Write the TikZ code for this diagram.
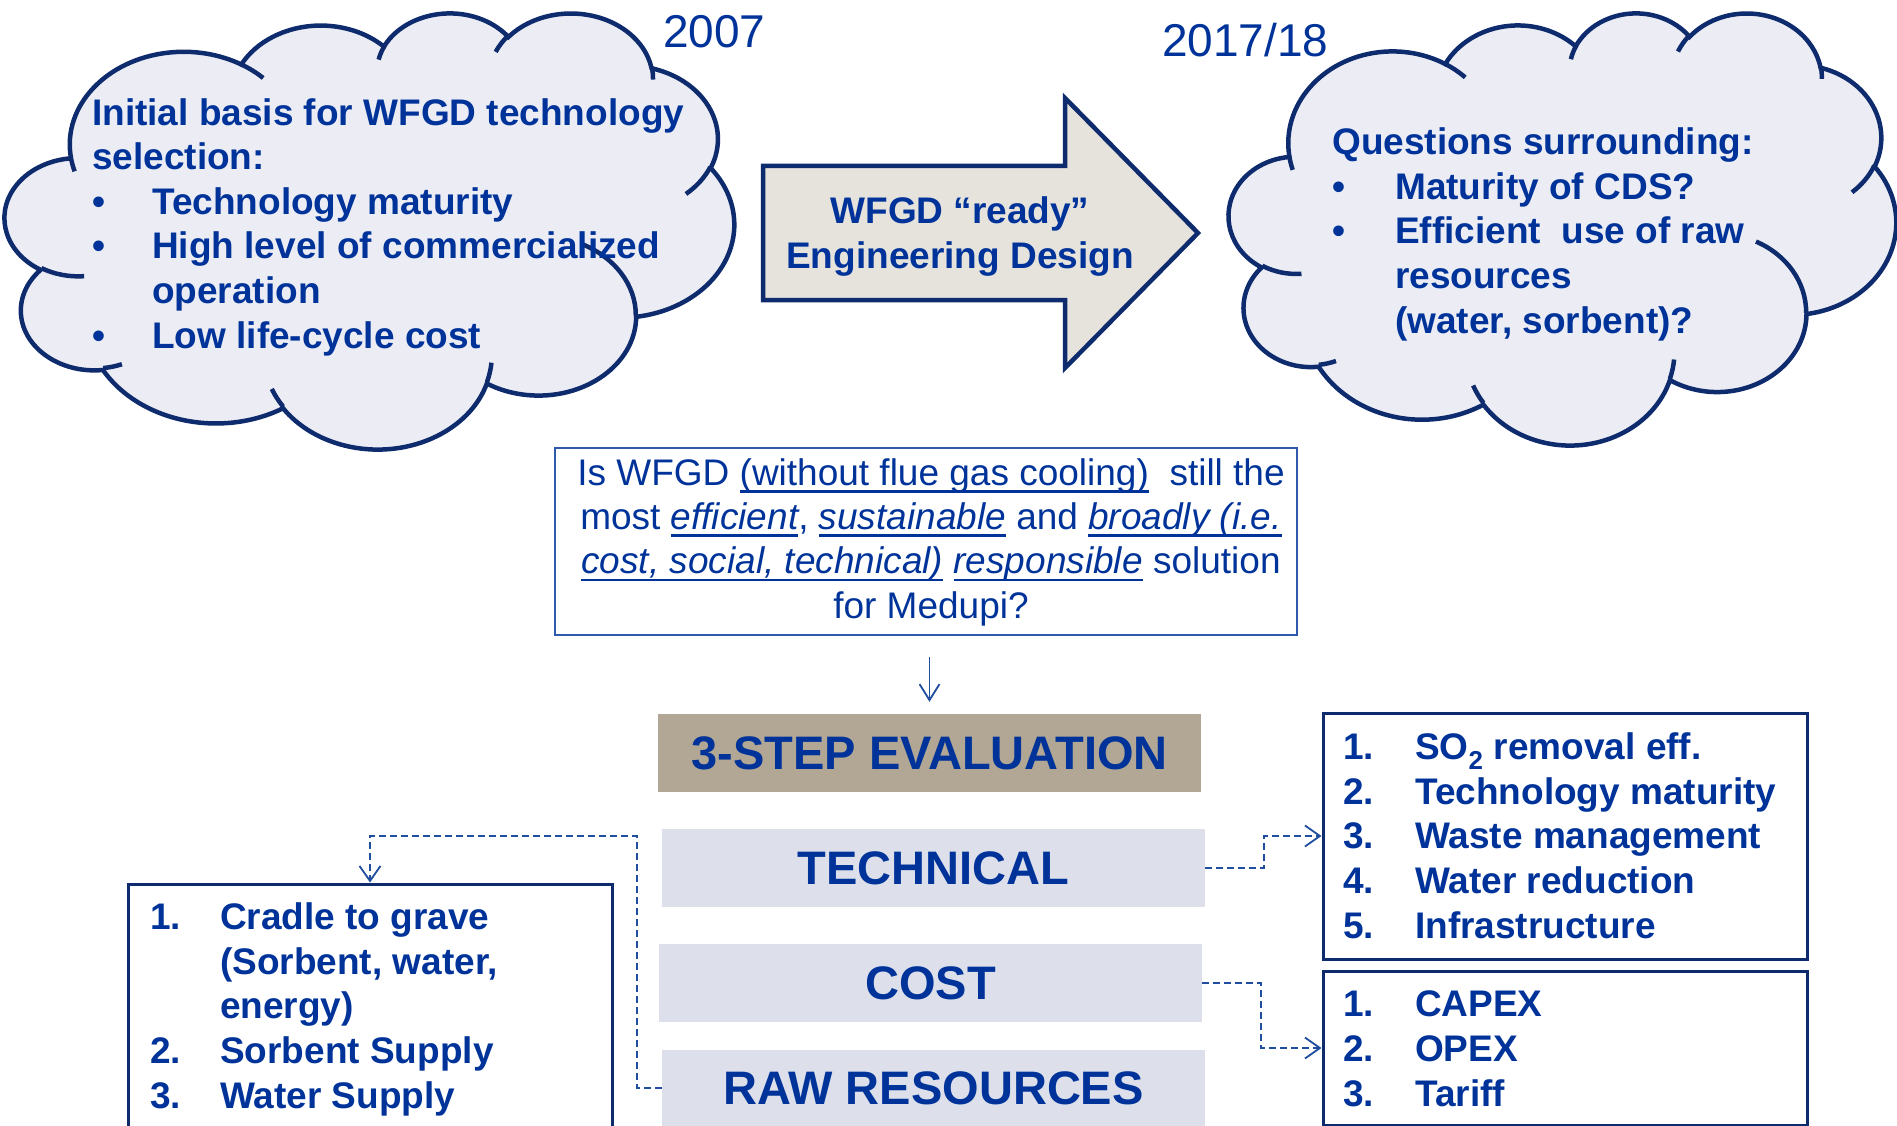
\documentclass[tikz,border=0pt]{standalone}
\usepackage{fontspec}
\setmainfont{Liberation Sans}
\usetikzlibrary{arrows.meta}
\definecolor{tblue}{HTML}{003399}
\definecolor{tnavy}{HTML}{0E2B6E}
\definecolor{tcloud}{HTML}{ECEDF4}
\definecolor{tsand}{HTML}{E6E2DC}
\definecolor{ttaupe}{HTML}{B2A694}
\definecolor{tgrey}{HTML}{DDE0EA}
\definecolor{tframe}{HTML}{2E5AAC}
\definecolor{tdash}{HTML}{1F4E9E}
\newsavebox{\ulbox}
\newcommand{\uln}[1]{\sbox{\ulbox}{#1}\rlap{\rule[-7.6pt]{\wd\ulbox}{2.6pt}}\usebox{\ulbox}}
\newcommand{\cbul}[1][60pt]{\makebox[#1][l]{•}}
\newcommand{\nr}[2][72pt]{\makebox[#1][l]{#2}}
% arc with visual angles (start, sweep) turned into ellipse parameters
\newcommand{\carc}[4]{arc[x radius=#1, y radius=#2, start angle={vang(#3,#1,#2)}, end angle={vang(#3+#4,#1,#2)}]}
\newcommand{\pcloud}[4]{% x, y, width, height
  \begin{scope}[shift={(#1,#2)}, x={(#3/432,0)}, y={(0,#4/432)}]
    \draw[cloudline, fill=tcloud] (39.00,143.70)
      \carc{67.53}{91.90}{-190.4875}{123.7805}
      \carc{53.33}{72.67}{-144.1024}{89.9452}
      \carc{43.65}{59.45}{-145.8079}{99.7230}
      \carc{48.57}{65.95}{-130.9861}{117.2417}
      \carc{53.33}{72.73}{-78.7089}{109.0269}
      \carc{67.75}{92.20}{-46.2673}{130.2690}
      \carc{57.85}{78.67}{0.6250}{114.0333}
      \carc{67.52}{92.15}{22.4516}{115.1726}
      \carc{77.20}{105.43}{66.2426}{75.7110}
      \carc{43.60}{59.18}{-274.9421}{146.7356}
      \carc{43.45}{59.45}{-246.8285}{152.5189} -- cycle;
    \draw[cloudline]
      (46.93,261.77) \carc{43.45}{59.45}{86.7420}{26.4295}
      (69.28,348.99) \carc{43.60}{59.18}{73.6105}{11.4475}
      (164.78,390.90) \carc{67.52}{92.15}{137.6242}{14.0811}
      (288.27,347.51) \carc{67.52}{92.15}{6.4533}{15.9984}
      (341.29,229.54) \carc{57.85}{78.67}{-70.2924}{70.9174}
      (417.98,153.54) \carc{53.33}{72.73}{30.3180}{27.7515}
      (383.24,54.26) \carc{48.57}{65.95}{-13.7443}{14.8589}
      (290.78,39.52) \carc{48.57}{65.95}{-149.1815}{18.1954}
      (221.41,47.20) \carc{43.65}{59.45}{-163.4943}{17.6864}
      (140.00,51.92) \carc{67.53}{91.90}{-66.7070}{12.3194}
      (41.27,157.89) \carc{67.53}{91.90}{157.6544}{11.8582};
  \end{scope}}
\tikzset{
  declare function={vang(\qq,\ra,\rb)=\qq+atan((\ra/\rb-1)*sin(\qq)*cos(\qq)/(cos(\qq)^2+\ra/\rb*sin(\qq)^2));},
  cloudline/.style={draw=tnavy, line width=4.5pt},
  bigtxt/.style={font=\fontsize{37}{44.6}\selectfont\bfseries, text=tblue, align=left,
                 inner sep=0pt, anchor=base west},
  year/.style={font=\fontsize{46}{50}\selectfont, text=tblue, inner sep=0pt, anchor=base west},
  stepbox/.style={font=\fontsize{47}{50}\selectfont\bfseries, text=tblue, minimum width=543pt,
                  minimum height=78pt, inner sep=0pt},
  listbox/.style={draw=tnavy, line width=3pt, inner sep=0pt, minimum width=484pt},
  link/.style={draw=tdash, line width=1.8pt, dash pattern=on 7pt off 4pt,
               -{Straight Barb[length=15pt,width=21pt]}},
}

\begin{document}
\begin{tikzpicture}[x=1pt, y=-1pt]
  \useasboundingbox (0,0) rectangle (1897,1126);
  \clip (0,0) rectangle (1897,1126);

  % --- clouds: 2007 and 2017/18 (text anchored at last baseline) ------
  \pcloud{5}{12}{729}{436}
  \pcloud{1229}{12}{667}{432}
  \node[year] (yold) at (663,48) {2007};
  \node[year] (ynew) at (1162,57) {2017/18};
  \node[bigtxt] (basis) at (92,348) {Initial basis for WFGD technology\\selection:\\
    \cbul Technology maturity\\\cbul High level of commercialized\\\hspace*{60pt}operation\\
    \cbul Low life-cycle cost};
  \node[bigtxt] (doubts) at (1332,333) {Questions surrounding:\\\cbul[63pt]Maturity of CDS?\\
    \cbul[63pt]Efficient\ \ use of raw\\\hspace*{63pt}resources\\\hspace*{63pt}(water, sorbent)?};

  % --- block arrow ------------------------------------------------------
  \draw[draw=tnavy, line width=4.5pt, fill=tsand, line join=miter]
    (763,166) -- (1065,166) -- (1065,98) -- (1198,233) -- (1065,368) -- (1065,300) -- (763,300) -- cycle;
  \node[bigtxt, align=center, anchor=base] (design) at (960,268) {WFGD “ready”\\Engineering Design};

  % --- question ---------------------------------------------------------
  \node[draw=tframe, line width=2pt, minimum width=742pt, minimum height=187pt, inner sep=0pt]
    (qframe) at (926,541.5) {};
  \node[font=\fontsize{37}{44.3}\selectfont, text=tblue, align=center, inner sep=0pt, anchor=base]
    (query) at (931,618) {Is WFGD \uln{(without flue gas cooling)}\ \ still the\\
    most \textit{\uln{efficient}}, \textit{\uln{sustainable}} and \textit{\uln{broadly (i.e.}}\\
    \textit{\uln{cost, social, technical)}} \textit{\uln{responsible}} solution\\for Medupi?};
  \coordinate (qgap) at (929.5,657);

  % --- three steps ------------------------------------------------------
  \node[stepbox, fill=ttaupe] (eval) at (929.5,753) {3-STEP EVALUATION};
  \node[stepbox, fill=tgrey] (tech) at (933.5,868) {TECHNICAL};
  \node[stepbox, fill=tgrey] (cost) at (930.5,983) {COST};
  \node[stepbox, fill=tgrey, minimum height=76pt] (raw) at (933.5,1088) {RAW RESOURCES};
  \draw[draw=tdash, line width=1.8pt, -{Straight Barb[length=16pt,width=20pt]}]
    (qgap) -- ([yshift=12pt]eval.north);

  % --- criteria lists ---------------------------------------------------
  \node[listbox, minimum height=246pt] (techlist) at (1565,836) {};
  \node[listbox, minimum height=154pt] (costlist) at (1565,1048) {};
  \node[listbox, minimum height=260pt] (rawlist) at (370,1014) {};
  \node[bigtxt] (techitems) at (1343,938) {\nr{1.}SO\textsubscript{2} removal eff.\\
    \nr{2.}Technology maturity\\\nr{3.}Waste management\\\nr{4.}Water reduction\\\nr{5.}Infrastructure};
  \node[bigtxt] (costitems) at (1343,1106) {\nr{1.}CAPEX\\\nr{2.}OPEX\\\nr{3.}Tariff};
  \node[bigtxt] (rawitems) at (150,1108) {\nr[70pt]{1.}Cradle to grave\\\hspace*{70pt}(Sorbent, water,\\
    \hspace*{70pt}energy)\\\nr[70pt]{2.}Sorbent Supply\\\nr[70pt]{3.}Water Supply};

  \coordinate (rawtop) at (370,836);
  \draw[link] (tech.east) -- ++(59,0) |- (techlist.west);
  \draw[link] (cost.east) -- ++(59,0) |- (costlist.west);
  \draw[link] (raw.west) -- ++(-25,0) |- (rawtop) -- (rawlist.north);
\end{tikzpicture}
\end{document}
